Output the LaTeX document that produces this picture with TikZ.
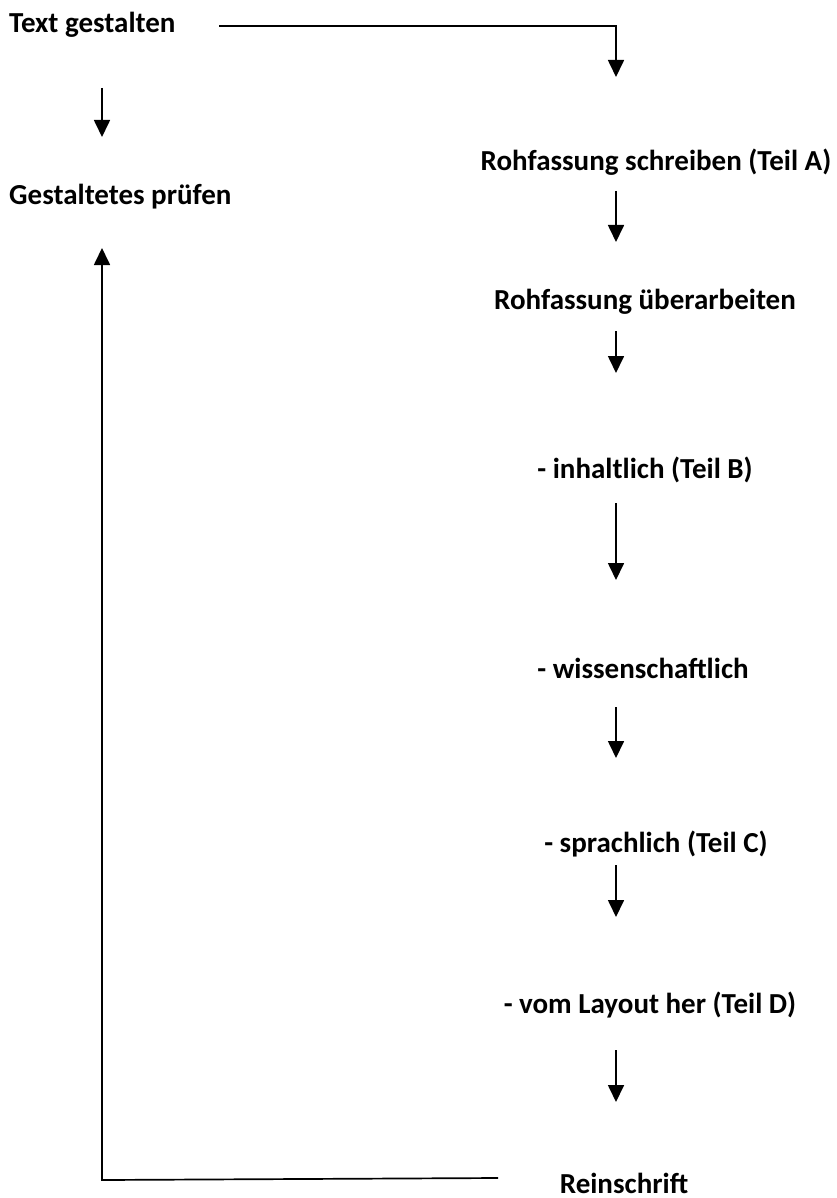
\documentclass[tikz,border=0pt]{standalone}
\usepackage{fontspec}
\setmainfont{Carlito}
\usetikzlibrary{arrows.meta}
\tikzset{
  lbl/.style={font=\fontsize{29}{33}\selectfont\bfseries, inner sep=0pt, anchor=base},
  lblw/.style={lbl, anchor=base west},
  arr/.style={line width=1.7pt, -{Triangle[width=16pt,length=17pt]}},
  ln/.style={line width=1.7pt}
}
\begin{document}
\begin{tikzpicture}[x=1pt,y=-1pt]
\useasboundingbox (0,0) rectangle (836,1198);
% left column
\node[lblw] (tg) at (9,33) {Text gestalten};
\node[lblw] (gp) at (9,205) {Gestaltetes prüfen};
% right column
\node[lbl] (ra) at (656,171) {Rohfassung schreiben (Teil A)};
\node[lbl] (ru) at (645,309) {Rohfassung überarbeiten};
\node[lbl] (ib) at (645,478) {- inhaltlich (Teil B)};
\node[lbl] (ws) at (643,678) {- wissenschaftlich};
\node[lbl] (sc) at (656,852) {- sprachlich (Teil C)};
\node[lbl] (ld) at (650,1013) {- vom Layout her (Teil D)};
\node[lbl] (rs) at (624,1193) {Reinschrift};
% connector coordinates
\coordinate (h0) at (219,26);
\coordinate (h1) at (616,26);
\coordinate (h1e) at (616,77);
\coordinate (l0) at (102,88);
\coordinate (l0e) at (102,137);
\coordinate (a1s) at (616,191);
\coordinate (a1e) at (616,242);
\coordinate (a2s) at (616,331);
\coordinate (a2e) at (616,373);
\coordinate (a3s) at (616,503);
\coordinate (a3e) at (616,580);
\coordinate (a4s) at (616,707);
\coordinate (a4e) at (616,758);
\coordinate (a5s) at (616,865);
\coordinate (a5e) at (616,917);
\coordinate (a6s) at (616,1050);
\coordinate (a6e) at (616,1102);
\coordinate (b0) at (498,1178);
\coordinate (b1) at (102,1180);
\coordinate (b1e) at (102,248);
% connectors
\draw[arr] (h0) -- (h1) -- (h1e);
\draw[arr] (l0) -- (l0e);
\draw[arr] (a1s) -- (a1e);
\draw[arr] (a2s) -- (a2e);
\draw[arr] (a3s) -- (a3e);
\draw[arr] (a4s) -- (a4e);
\draw[arr] (a5s) -- (a5e);
\draw[arr] (a6s) -- (a6e);
\draw[arr] (b0) -- (b1) -- (b1e);
\end{tikzpicture}
\end{document}
